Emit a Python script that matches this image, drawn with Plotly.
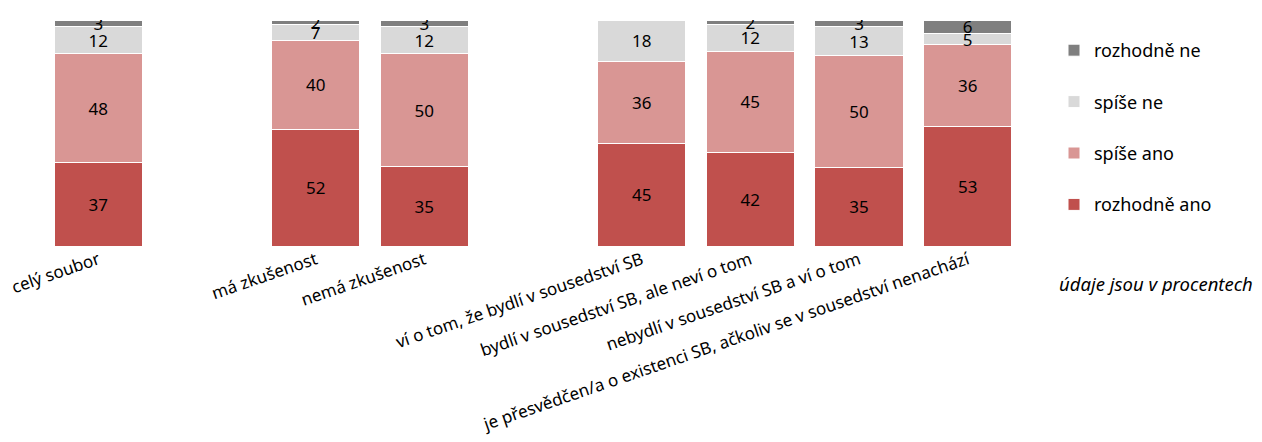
import plotly.graph_objects as go

categories = ["celý soubor", "má zkušenost", "nemá zkušenost",
              "ví o tom, že bydlí v sousedství SB",
              "bydlí v sousedství SB, ale neví o tom",
              "nebydlí v sousedství SB a ví o tom",
              "je přesvědčen/a o existenci SB, ačkoliv se v sousedství nenachází"]
positions = [0, 2, 3, 5, 6, 7, 8]

rozhodne_ano = [37, 52, 35, 45, 42, 35, 53]
spise_ano = [48, 40, 50, 36, 45, 50, 36]
spise_ne = [12, 7, 12, 18, 12, 13, 5]
rozhodne_ne = [3, 2, 3, None, 2, 3, 6]

series = [
    ("rozhodně ano", rozhodne_ano, "#c0504d", 4),
    ("spíše ano", spise_ano, "#d99694", 3),
    ("spíše ne", spise_ne, "#d9d9d9", 2),
    ("rozhodně ne", rozhodne_ne, "#7f7f7f", 1),
]

FONT = "Noto Sans"
W, H = 1254, 434   # page body has an 8px margin
L, R, T, B = 36, 240, 12, 196
PW, PH = W - L - R, H - T - B

fig = go.Figure()
for name, vals, col, rank in series:
    fig.add_trace(go.Bar(
        name=name, x=positions, y=[v if v is not None else 0 for v in vals],
        text=[str(v) if v is not None else "" for v in vals],
        texttemplate="%{text}", textposition="inside", insidetextanchor="middle",
        textangle=0,
        textfont=dict(color="black", size=17, family=FONT),
        marker=dict(color=col, line=dict(color="white", width=1)),
        width=0.81, legendgroup=name, legendrank=rank, hoverinfo="skip",
    ))

fig.update_layout(
    width=W, height=H,
    barmode="stack", barnorm="percent",
    plot_bgcolor="white", paper_bgcolor="white",
    margin=dict(l=L, r=R, t=T, b=B, autoexpand=False),
    font=dict(family=FONT, size=16, color="black"),
    uniformtext=dict(minsize=17, mode="show"),
    xaxis=dict(range=[-0.5, 8.5], tickvals=positions, ticktext=categories,
               tickangle=-19, showgrid=False, zeroline=False, showline=False,
               ticks="", automargin=False, tickfont=dict(size=17, family=FONT)),
    yaxis=dict(range=[0, 100], visible=False, automargin=False),
    legend=dict(tracegroupgap=25,
                xref="container", yref="container", x=1046/W, y=1 - 24/H,
                xanchor="left", yanchor="top", font=dict(size=18, family=FONT),
                itemwidth=30),
    annotations=[dict(text="<i>údaje jsou v procentech</i>", xref="paper", yref="paper",
                      x=(1148 - L)/PW, y=(H - B - 275)/PH, xanchor="center", yanchor="middle",
                      showarrow=False, font=dict(size=18.5, family=FONT))],
)

fig.write_html("out.html")
